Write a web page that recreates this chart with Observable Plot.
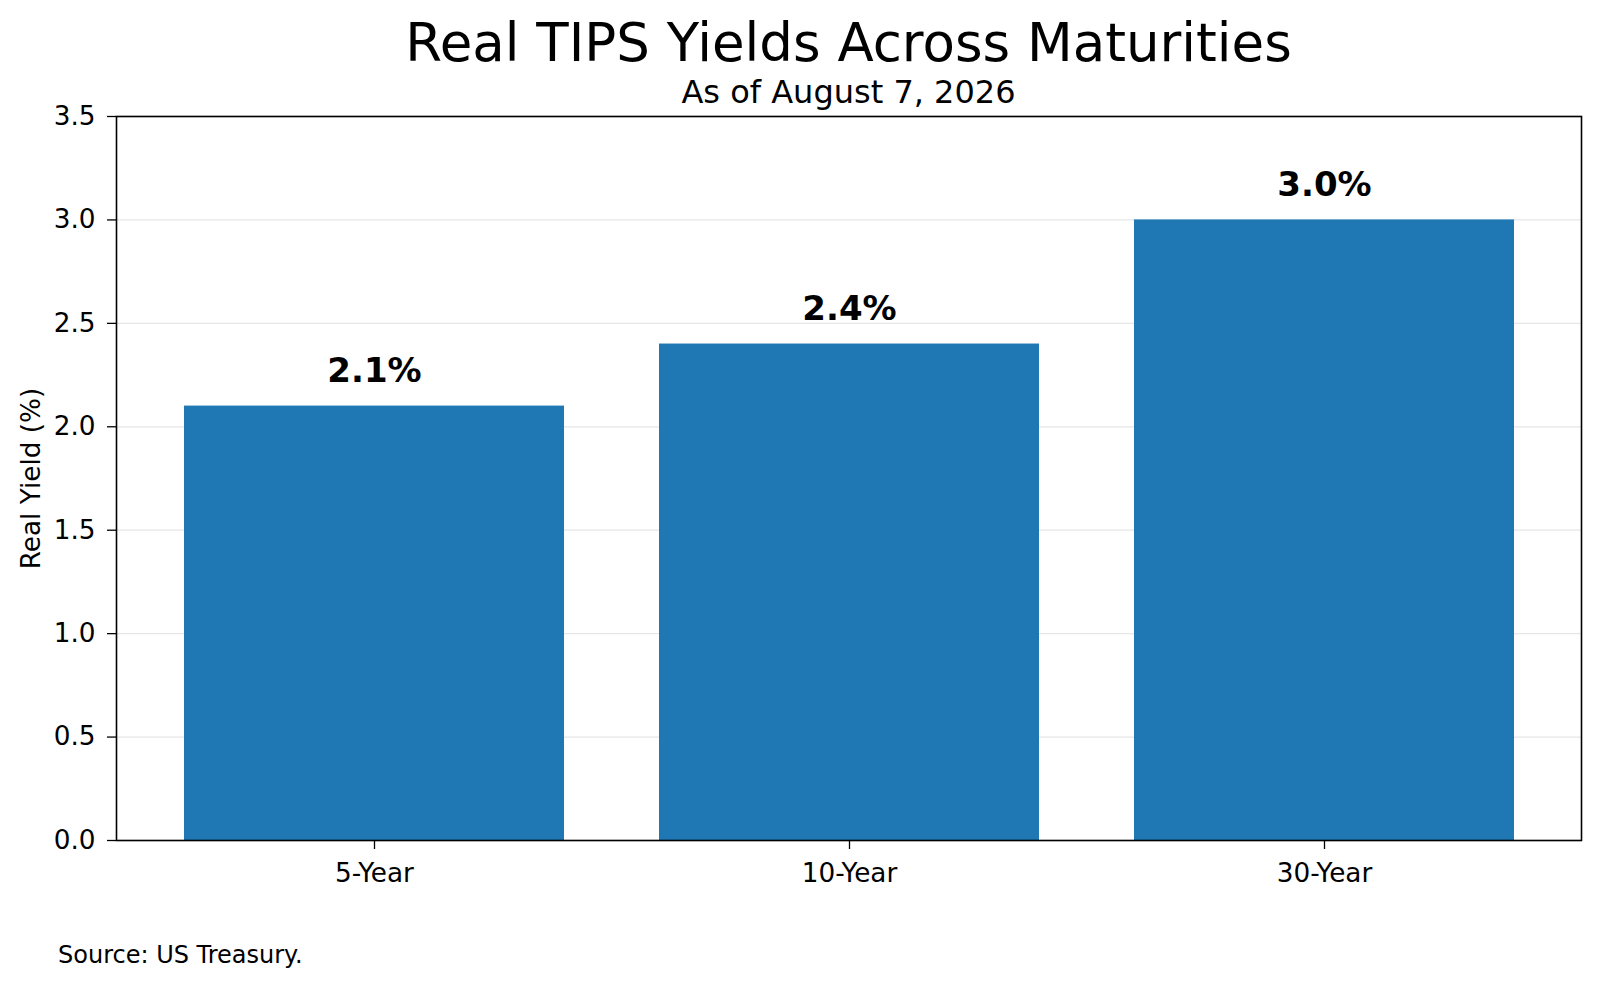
<!DOCTYPE html>
<html>
<head>
<meta charset="utf-8">
<script src="https://cdn.jsdelivr.net/npm/d3@7"></script>
<script src="https://cdn.jsdelivr.net/npm/@observablehq/plot@0.6"></script>
<style>
  html, body { margin: 0; padding: 0; background: #fff; }
  #wrap { position: relative; width: 1600px; height: 987px; font-family: "DejaVu Sans", sans-serif; color: #000; }
  .t { position: absolute; white-space: nowrap; z-index: 2; }
  #title { left: 0; text-align: center; top: 16px; font-size: 53px; line-height: 53px; }
  #subtitle { left: 0; text-align: center; top: 76px; font-size: 32px; line-height: 32px; }
  #chart { position: absolute; left: 0; top: 96px; z-index: 1; }
  #source { left: 58px; top: 943px; font-size: 24px; line-height: 24px; }
</style>
</head>
<body>
<div id="wrap">
  <div id="title" class="t">Real TIPS Yields Across Maturities</div>
  <div id="subtitle" class="t">As of August 7, 2026</div>
  <div id="chart"></div>
  <div id="source" class="t">Source: US Treasury.</div>
</div>
<script>
const maturities = ["5-Year", "10-Year", "30-Year"];
const yields = [2.1, 2.4, 3.0];
const yTicks = [0, 0.5, 1.0, 1.5, 2.0, 2.5, 3.0, 3.5];

const data = maturities.map((m, i) => ({maturity: m, value: yields[i]}));

// center title over plot area
const plotLeft = 116, plotRight = 19;
document.getElementById("title").style.width = (1600 - plotRight + plotLeft) + "px";
document.getElementById("subtitle").style.width = (1600 - plotRight + plotLeft) + "px";

const chart = Plot.plot({
  width: 1600,
  height: 820,
  marginLeft: plotLeft,
  marginRight: plotRight,
  marginTop: 20,
  marginBottom: 76,
  style: {fontFamily: "DejaVu Sans, sans-serif", fontSize: "26px", color: "#000", background: "transparent", overflow: "visible"},
  x: {domain: maturities, paddingInner: 0.2, paddingOuter: 0.14, label: null},
  y: {domain: [0, 3.5], label: null},
  marks: [
    Plot.gridY(yTicks, {stroke: "#e6e6e6", strokeOpacity: 1, strokeWidth: 1.3}),
    Plot.barY(data, {x: "maturity", y: "value", fill: "#1f77b4"}),
    Plot.text(data, {x: "maturity", y: "value", text: d => d.value.toFixed(1) + "%", fontWeight: "bold", fontSize: 34, dy: -35, fill: "#000"}),
    Plot.axisY({ticks: yTicks, tickFormat: d => d.toFixed(1), tickSize: 9, tickPadding: 12, strokeWidth: 1.3, fontSize: 26.3,
      label: "Real Yield (%)", labelAnchor: "center", labelArrow: "none", labelOffset: 95}),
    Plot.axisX({tickSize: 9, tickPadding: 14, strokeWidth: 1.3, fontSize: 26.3, label: null}),
    Plot.frame({stroke: "#000", strokeWidth: 1.6})
  ]
});
document.getElementById("chart").appendChild(chart);
</script>
</body>
</html>
